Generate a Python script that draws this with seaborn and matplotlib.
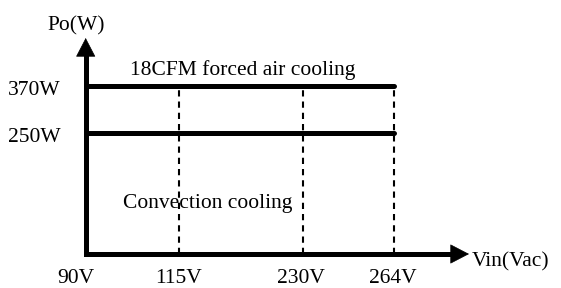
import numpy as np
import pandas as pd
import matplotlib
matplotlib.use("Agg")
import matplotlib.pyplot as plt
import seaborn as sns

# ---- data ----
vin_ticks = [90, 115, 230, 264]
vin_labels = ["90V", "115V", "230V", "264V"]
power_levels = [370, 250]
power_labels = ["370W", "250W"]
dashed_vin = [115, 230, 264]
forced_label = "18CFM forced air cooling"
conv_label = "Convection cooling"
x_title = "Vin(Vac)"
y_title = "Po(W)"

# ---- layout (pixel positions of the schematic axes) ----
W, H = 561, 288
X_PX = [85.7, 179.3, 302.7, 394.0]          # where each Vin tick sits
Y_SRC = [0, 250, 370]
Y_PX_UP = [H - 254, H - 133, H - 86]         # height from bottom for 0W / 250W / 370W
X_TIP_PX = 469
Y_TIP_PX_UP = H - 38
HEAD = 17.5

sns.set_theme(style="white")
plt.rcParams["font.family"] = ["Liberation Serif", "DejaVu Serif"]
FS = 15.5


def make_fn(src, dst):
    src = np.asarray(src, float)
    dst = np.asarray(dst, float)
    s0 = (dst[1] - dst[0]) / (src[1] - src[0])
    s1 = (dst[-1] - dst[-2]) / (src[-1] - src[-2])

    def f(v):
        v = np.asarray(v, float)
        out = np.interp(v, src, dst)
        out = np.where(v < src[0], dst[0] + (v - src[0]) * s0, out)
        out = np.where(v > src[-1], dst[-1] + (v - src[-1]) * s1, out)
        return out
    return f


fx, fx_inv = make_fn(vin_ticks, X_PX), make_fn(X_PX, vin_ticks)
fy, fy_inv = make_fn(Y_SRC, Y_PX_UP), make_fn(Y_PX_UP, Y_SRC)

fig = plt.figure(figsize=(W / 100, H / 100), dpi=100)
ax = fig.add_axes([0, 0, 1, 1])
ax.set_xscale("function", functions=(fx, fx_inv))
ax.set_yscale("function", functions=(fy, fy_inv))
ax.set_xlim(float(fx_inv(0)), float(fx_inv(W)))
ax.set_ylim(float(fy_inv(0)), float(fy_inv(H)))
ax.axis("off")

v0, v1 = vin_ticks[0], vin_ticks[-1]
y0 = 0

# horizontal power levels
df_h = pd.DataFrame({
    "Vin": [v0, v1] * len(power_levels),
    "Po": [p for p in power_levels for _ in range(2)],
    "level": [lab for lab in power_labels for _ in range(2)],
})
sns.lineplot(data=df_h, x="Vin", y="Po", units="level", estimator=None,
             color="black", lw=3.6, ax=ax, legend=False, sort=False)

# dashed verticals
df_v = pd.DataFrame({
    "Vin": [v for v in dashed_vin for _ in range(2)],
    "Po": [y0, max(power_levels)] * len(dashed_vin),
    "line": [v for v in dashed_vin for _ in range(2)],
})
sns.lineplot(data=df_v, x="Vin", y="Po", units="line", estimator=None,
             color="black", lw=1.5, ax=ax, legend=False, sort=False,
             linestyle=(0, (3.0, 2.4)))

# axes (L shape with arrows)
x_tip = float(fx_inv(X_TIP_PX))
x_shaft = float(fx_inv(X_TIP_PX - HEAD + 1))
y_tip = float(fy_inv(Y_TIP_PX_UP))
y_shaft = float(fy_inv(Y_TIP_PX_UP - HEAD + 1))
ax.plot([v0, v0, x_shaft], [y_shaft, y0, y0], color="black", lw=3.6,
        solid_joinstyle="miter", solid_capstyle="butt")
arrow = dict(arrowstyle="-|>,head_length=1.0,head_width=0.52", color="black",
             lw=0.5, shrinkA=0, shrinkB=0, mutation_scale=12.6)
ax.annotate("", xy=(x_tip, y0), xytext=(float(fx_inv(X_TIP_PX - HEAD)), y0),
            arrowprops=arrow)
ax.annotate("", xy=(v0, y_tip), xytext=(v0, float(fy_inv(Y_TIP_PX_UP - HEAD))),
            arrowprops=arrow)


def ptext(x, y, s, ha="left", va="baseline"):
    fig.text(x / W, 1 - y / H, s, ha=ha, va=va, fontsize=FS, color="black")


# tick labels
tick_off = [-10, -1, -2, -1]
for v, lab, off in zip(vin_ticks, vin_labels, tick_off):
    ptext(float(fx(v)) + off, 283, lab, ha="center")
for p, lab in zip(power_levels, power_labels):
    ptext(8, H - float(fy(p)) + 9, lab)

ptext(76.5, 30, y_title, ha="center")
ptext(472, 266, x_title)
ptext(130, 75, forced_label)
ptext(123, 208, conv_label)

fig.savefig("out.png", dpi=100)
